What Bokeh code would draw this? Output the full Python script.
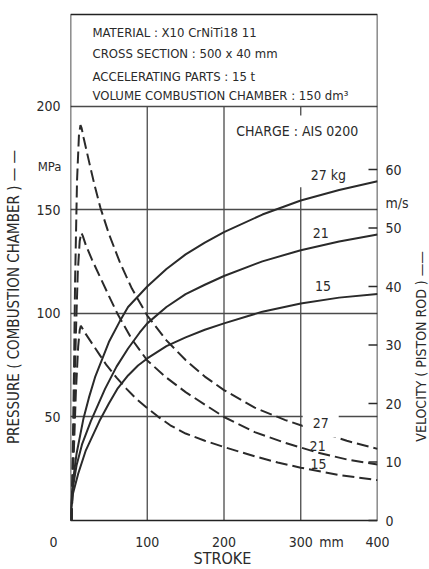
from math import pi
from bokeh.plotting import figure
from bokeh.layouts import row, column
from bokeh.models import Range1d, FixedTicker, Label
from bokeh.core.properties import value
from bokeh.embed import file_html
from bokeh.resources import INLINE

# ---------------- data ----------------
stroke_ticks = [100, 200, 300, 400]
pressure_ticks = [50, 100, 150, 200]
velocity_ticks = [0, 10, 20, 30, 40, 50, 60]

# pressure (combustion chamber), MPa  -- dashed curves
s_p27 = [1.5, 4.5, 6, 8.5, 11, 13, 14.5, 17, 21, 25, 31, 39, 50, 64, 80, 100, 125, 150, 175, 200, 240, 280, 320, 360, 400]
p27 = [0, 71, 116, 164, 186, 191, 189.5, 185, 178.5, 172, 162.5, 151, 138.5, 125, 112, 99, 87, 77.5, 69.5, 63, 54.5, 48.5, 43.5, 38.5, 34.6]
s_p21 = [1.5, 4.5, 7, 9.5, 12, 14, 16, 20, 28, 38, 50, 61, 80, 100, 125, 150, 175, 200, 240, 280, 320, 360, 400]
p21 = [0, 50, 90, 120, 135, 139, 137.5, 133, 126, 118, 108.5, 100, 87.5, 77.3, 69, 62, 56, 50, 42.7, 37.5, 33, 29.5, 27]
s_p15 = [1.5, 4.5, 7, 10, 12, 13.5, 16, 20, 29, 38, 47, 60, 73, 85, 101, 114, 130, 150, 175, 200, 240, 270, 300, 350, 400]
p15 = [0, 35, 62, 84, 92, 94, 92.5, 90, 85, 80, 75, 69, 63.6, 59, 54, 50.2, 46, 42, 38.5, 35.5, 31, 28, 25.5, 22, 19.5]

# velocity (piston rod), m/s -- solid curves
s_v27 = [0, 1, 3, 8, 17, 24, 32, 50, 64, 75, 100, 125, 150, 175, 200, 250, 300, 350, 400]
v27 = [0, 3, 6.5, 11.5, 17.5, 21, 24.5, 30.5, 34, 36.5, 40, 43, 45.5, 47.5, 49.3, 52.3, 54.7, 56.5, 58]
s_v21 = [0, 1, 3, 8, 15, 26.5, 45, 60, 75, 90, 100, 125, 150, 175, 200, 250, 300, 350, 400]
v21 = [0, 2.5, 5.5, 9.5, 13, 17, 22.5, 26.3, 29.4, 32.1, 33.7, 36.5, 38.7, 40.3, 41.8, 44.3, 46.2, 47.7, 48.9]
s_v15 = [0, 1, 3, 10, 20, 37.7, 50, 61, 75, 88, 100, 125, 150, 175, 200, 250, 300, 350, 400]
v15 = [0, 2, 4.5, 8, 12, 17, 20, 22.5, 24.8, 26.5, 27.7, 29.8, 31.3, 32.6, 33.7, 35.7, 37.1, 38.1, 38.7]

header_lines = ["MATERIAL : X10 CrNiTi18 11",
                "CROSS SECTION : 500 x 40 mm",
                "ACCELERATING PARTS : 15 t",
                "VOLUME COMBUSTION CHAMBER : 150 dm\u00b3"]

FONT = "'Liberation Sans Narrow', 'DejaVu Sans Condensed', sans-serif"
INK = "#2a2a2a"
GRID = "#4a4a4a"

# ---------------- geometry (page pixels) ----------------
W, H = 429, 569
FRAME_L, FRAME_R, FRAME_T, FRAME_B = 70, 377, 14, 520
LEFT_W = 66                 # left strip: pressure tick labels + title
RIGHT_X = 379               # right strip starts here: velocity tick labels + title
TOP_H = 527                 # height of the row (main + side strips)
X_MAX = 400
P_TOP = 244.4               # header area above 200 MPa
V_TOP = 86.5                # velocity range matching the right scale
MPA_POS = 171
MS_POS = 54.2

kx = (FRAME_R - FRAME_L) / X_MAX
ky = (FRAME_B - FRAME_T) / P_TOP
kv = (FRAME_B - FRAME_T) / V_TOP

# vertical ranges spanning the whole row height (0..TOP_H page px)
P_LO, P_HI = -(TOP_H - FRAME_B) / ky, P_TOP + FRAME_T / ky
V_LO, V_HI = -(TOP_H - FRAME_B) / kv, V_TOP + FRAME_T / kv


def label(fig, x, y, text, size="14px", align="left", baseline="middle", angle=0, bg=None, pad=0):
    kw = {}
    if bg:
        kw["background_fill_color"] = bg
        kw["padding"] = pad
    fig.add_layout(Label(x=x, y=y, text=text, text_font=FONT, text_font_size=size,
                         text_color=INK, text_align=align, text_baseline=baseline,
                         angle=angle, **kw))


def strip(w, h, xr, yr):
    f = figure(width=w, height=h, output_backend="svg", toolbar_location=None,
               x_range=xr, y_range=yr, x_axis_type=None, y_axis_type=None,
               min_border_left=0, min_border_right=0, min_border_top=0, min_border_bottom=0)
    f.outline_line_color = None
    f.background_fill_color = "white"
    f.border_fill_color = "white"
    return f


def tick_text(fig, xs, ys, texts, align):
    fig.text(x=xs, y=ys, text=texts, text_font=value(FONT), text_font_size=value("14px"),
             text_color=INK, text_align=align, text_baseline="middle")


# ---------------- main plot ----------------
main_w = RIGHT_X - LEFT_W
p = figure(width=main_w, height=TOP_H, output_backend="svg", toolbar_location=None,
           x_range=Range1d(0, X_MAX), y_range=Range1d(P_LO, P_HI),
           x_axis_location=None, y_axis_location=None,
           min_border_left=FRAME_L - LEFT_W, min_border_right=RIGHT_X - FRAME_R,
           min_border_top=0, min_border_bottom=0)
p.background_fill_color = "white"
p.border_fill_color = "white"
p.outline_line_color = None
p.extra_y_ranges = {"v": Range1d(V_LO, V_HI)}

# grid
p.xgrid.visible = False
p.ygrid.ticker = FixedTicker(ticks=pressure_ticks)
p.ygrid.grid_line_color = GRID
p.ygrid.grid_line_width = 1.3

vg_x = stroke_ticks[:-1]
vg_top = [pressure_ticks[-1], pressure_ticks[-1], 161]
p.segment(x0=vg_x, y0=[0] * len(vg_x), x1=vg_x, y1=vg_top, line_color=GRID, line_width=1.3)
p.segment(x0=[stroke_ticks[2]], y0=[195.6], x1=[stroke_ticks[2]], y1=[pressure_ticks[-1]],
          line_color=GRID, line_width=1.3)

# chart box (stroke 0..400, pressure 0..header top)
p.quad(left=[0], right=[X_MAX], bottom=[0], top=[P_TOP], fill_color=None,
       line_color="#222222", line_width=1.6)

# inward tick marks of the velocity scale
n = len(velocity_ticks)
tick_len = 9 / kx
p.segment(x0=[X_MAX - tick_len] * n, y0=velocity_ticks, x1=[X_MAX] * n, y1=velocity_ticks,
          y_range_name="v", line_color=INK, line_width=1.3)

# curves
for xs, ys in ((s_v27, v27), (s_v21, v21), (s_v15, v15)):
    p.line(xs, ys, y_range_name="v", line_color=INK, line_width=2)
for xs, ys in ((s_p27, p27), (s_p21, p21), (s_p15, p15)):
    p.line(xs, ys, line_color=INK, line_width=2, line_dash="12 5")

# header block
for txt, yy in zip(header_lines, [235.7, 225.6, 214.5, 205.3]):
    label(p, 28.7, yy, txt, size="13px")
label(p, 216, 188, "CHARGE : AIS 0200", size="14px")

# curve labels
label(p, 336, 166.7, "27 kg", align="center")
label(p, 326, 139, "21", align="center")
label(p, 329, 113.5, "15", align="center")
label(p, 326, 47.3, "27", align="center", bg="white", pad=10)
label(p, 322, 36, "21", align="center")
label(p, 323, 27.5, "15", align="center")

# ---------------- left strip: pressure scale ----------------
L = strip(LEFT_W, TOP_H, Range1d(0, LEFT_W), Range1d(P_LO, P_HI))
tick_text(L, [60] * len(pressure_ticks), pressure_ticks, [str(t) for t in pressure_ticks], "right")
label(L, 61, MPA_POS, "MPa", size="13px", align="right")
label(L, 13, 110, "PRESSURE ( COMBUSTION  CHAMBER )  \u2014 \u2014", size="15px",
      align="center", angle=pi / 2)

# ---------------- right strip: velocity scale ----------------
R = strip(W - RIGHT_X, TOP_H, Range1d(RIGHT_X, W), Range1d(V_LO, V_HI))
tick_text(R, [385] * n, velocity_ticks, [str(t) for t in velocity_ticks], "left")
label(R, 385, MS_POS, "m/s", size="14px")
label(R, 420, 30.8, "VELOCITY  ( PISTON  ROD )  \u2014\u2014", size="14px", align="center",
      angle=pi / 2)

# ---------------- bottom strip: stroke scale ----------------
bx = Range1d(-FRAME_L / kx, (W - FRAME_L) / kx)
B = strip(W, H - TOP_H, bx, Range1d(H, TOP_H))   # y in page pixels (downwards)
tick_text(B, stroke_ticks, [541] * len(stroke_ticks), [str(t) for t in stroke_ticks], "center")
label(B, -22, 541, "0", align="center")
label(B, 340, 541, "mm", align="center")
label(B, 198, 558, "STROKE", size="16px", align="center")

layout = column(row(L, p, R), B)
open("out.html", "w").write(file_html(layout, INLINE))
